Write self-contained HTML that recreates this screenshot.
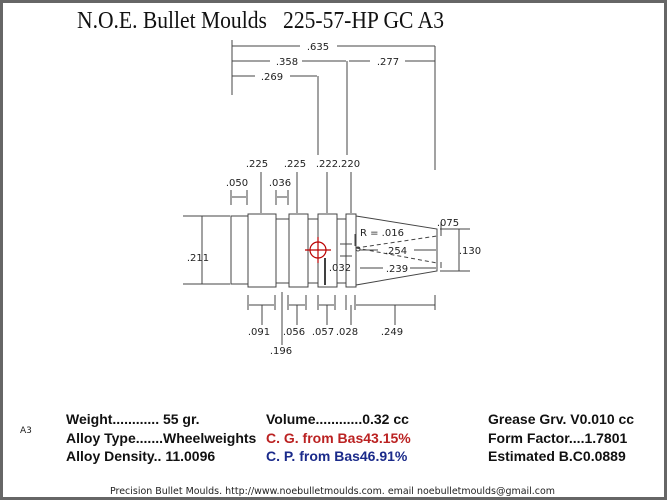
<!DOCTYPE html>
<html><head><meta charset="utf-8"><style>
html,body{margin:0;padding:0;background:#fff}
svg{display:block}
.s{font-family:"DejaVu Sans","Liberation Sans",sans-serif;font-size:10px;fill:#222}
.b{font-family:"Liberation Sans",Arial,sans-serif;font-size:14px;font-weight:bold;fill:#111}
</style></head><body>
<svg width="667" height="500" viewBox="0 0 667 500" xmlns="http://www.w3.org/2000/svg">
<rect x="1.5" y="1.5" width="664" height="497" fill="#fff" stroke="#666" stroke-width="3"/>
<text x="77" y="28" font-family="Liberation Serif,serif" font-size="24" fill="#111" textLength="367" lengthAdjust="spacingAndGlyphs" xml:space="preserve">N.O.E. Bullet Moulds   225-57-HP GC A3</text>
<g stroke="#444" stroke-width="1" fill="none">
<line x1="232" y1="40" x2="232" y2="95"/>
<line x1="318" y1="76" x2="318" y2="155"/>
<line x1="347" y1="61" x2="347" y2="155"/>
<line x1="435" y1="46" x2="435" y2="170"/>
<line x1="232" y1="46" x2="300" y2="46"/><line x1="337" y1="46" x2="435" y2="46"/>
<line x1="232" y1="61" x2="270" y2="61"/><line x1="302" y1="61" x2="346" y2="61"/>
<line x1="349" y1="61" x2="370" y2="61"/><line x1="405" y1="61" x2="435" y2="61"/>
<line x1="232" y1="76" x2="255" y2="76"/><line x1="290" y1="76" x2="317" y2="76"/>
<rect x="231" y="216" width="17" height="68"/>
<rect x="248" y="214" width="28" height="73"/>
<rect x="276" y="219" width="13" height="64"/>
<rect x="289" y="214" width="19" height="73"/>
<rect x="308" y="219" width="10" height="64"/>
<rect x="318" y="214" width="19" height="73"/>
<rect x="337" y="219" width="9" height="64"/>
<rect x="346" y="214" width="10" height="73"/>
<polygon points="356,216 437,229 437,271 356,285"/>
<line x1="356" y1="248" x2="437" y2="236" stroke-dasharray="4,3"/>
<line x1="356" y1="248" x2="437" y2="263" stroke-dasharray="4,3"/>
<circle cx="358" cy="249" r="2"/>
<line x1="355" y1="234" x2="355" y2="246"/>
<line x1="261" y1="172" x2="261" y2="213"/>
<line x1="297" y1="172" x2="297" y2="213"/>
<line x1="327" y1="172" x2="327" y2="213"/>
<line x1="351" y1="172" x2="351" y2="213"/>
<line x1="231" y1="190" x2="231" y2="205"/><line x1="247" y1="190" x2="247" y2="205"/><line x1="232" y1="197" x2="246" y2="197"/>
<line x1="276" y1="190" x2="276" y2="205"/><line x1="288" y1="190" x2="288" y2="205"/><line x1="277" y1="197" x2="287" y2="197"/>
<line x1="183" y1="216" x2="230" y2="216"/><line x1="183" y1="284" x2="230" y2="284"/><line x1="202" y1="216" x2="202" y2="284"/>
<line x1="440" y1="229" x2="470" y2="229"/><line x1="440" y1="271" x2="470" y2="271"/><line x1="459" y1="229" x2="459" y2="271"/>
<line x1="441" y1="222" x2="441" y2="236"/>
<line x1="441" y1="262" x2="441" y2="268"/>
<line x1="360" y1="250" x2="378" y2="250"/><line x1="414" y1="250" x2="436" y2="250"/>
<line x1="360" y1="268" x2="383" y2="268"/><line x1="410" y1="268" x2="436" y2="268"/>
<line x1="346" y1="240" x2="346" y2="258"/>
<line x1="340" y1="244" x2="352" y2="244"/><line x1="340" y1="256" x2="352" y2="256"/>
<line x1="248" y1="295" x2="248" y2="310"/><line x1="275" y1="295" x2="275" y2="310"/><line x1="249" y1="305" x2="274" y2="305"/><line x1="262" y1="305" x2="262" y2="325"/>
<line x1="282" y1="292" x2="282" y2="345"/>
<line x1="288" y1="295" x2="288" y2="310"/><line x1="306" y1="295" x2="306" y2="310"/><line x1="289" y1="305" x2="305" y2="305"/><line x1="297" y1="305" x2="297" y2="325"/>
<line x1="318" y1="295" x2="318" y2="310"/><line x1="335" y1="295" x2="335" y2="310"/><line x1="319" y1="305" x2="334" y2="305"/><line x1="327" y1="305" x2="327" y2="325"/>
<line x1="346" y1="295" x2="346" y2="310"/><line x1="355" y1="295" x2="355" y2="310"/><line x1="351" y1="305" x2="351" y2="325"/>
<line x1="356" y1="305" x2="435" y2="305"/><line x1="435" y1="295" x2="435" y2="310"/><line x1="395" y1="305" x2="395" y2="325"/>
</g>
<line x1="325" y1="258" x2="325" y2="285" stroke="#000" stroke-width="1.5"/>
<g stroke="#b00" stroke-width="1.2" fill="none">
<circle cx="318" cy="250" r="8"/>
<line x1="305" y1="250" x2="331" y2="250"/><line x1="318" y1="237" x2="318" y2="263"/>
</g>
<g class="s">
<text x="318" y="50" text-anchor="middle">.635</text>
<text x="287" y="65" text-anchor="middle">.358</text>
<text x="388" y="65" text-anchor="middle">.277</text>
<text x="272" y="80" text-anchor="middle">.269</text>
<text x="257" y="167" text-anchor="middle">.225</text>
<text x="295" y="167" text-anchor="middle">.225</text>
<text x="327" y="167" text-anchor="middle">.222</text>
<text x="349" y="167" text-anchor="middle">.220</text>
<text x="237" y="186" text-anchor="middle">.050</text>
<text x="280" y="186" text-anchor="middle">.036</text>
<text x="198" y="261" text-anchor="middle">.211</text>
<text x="360" y="236">R = .016</text>
<text x="396" y="254" text-anchor="middle">.254</text>
<text x="397" y="272" text-anchor="middle">.239</text>
<text x="340" y="271" text-anchor="middle">.032</text>
<text x="448" y="226" text-anchor="middle">.075</text>
<text x="470" y="254" text-anchor="middle">.130</text>
<text x="259" y="335" text-anchor="middle">.091</text>
<text x="294" y="335" text-anchor="middle">.056</text>
<text x="323" y="335" text-anchor="middle">.057</text>
<text x="347" y="335" text-anchor="middle">.028</text>
<text x="392" y="335" text-anchor="middle">.249</text>
<text x="281" y="354" text-anchor="middle">.196</text>
<text x="20" y="433" font-size="9">A3</text>
</g>
<g class="b">
<text x="66" y="424">Weight............ 55 gr.</text>
<text x="66" y="443">Alloy Type.......Wheelweights</text>
<text x="66" y="461">Alloy Density.. 11.0096</text>
<text x="266" y="424">Volume............0.32 cc</text>
<text x="266" y="443" fill="#b22">C. G. from Bas43.15%</text>
<text x="266" y="461" fill="#1a2a8a">C. P. from Bas46.91%</text>
<text x="488" y="424">Grease Grv. V0.010 cc</text>
<text x="488" y="443">Form Factor....1.7801</text>
<text x="488" y="461">Estimated B.C0.0889</text>
</g>
<text x="110" y="494" font-family="DejaVu Sans,Liberation Sans,sans-serif" font-size="10" fill="#222" textLength="445" lengthAdjust="spacingAndGlyphs">Precision Bullet Moulds. http://www.noebulletmoulds.com.  email noebulletmoulds@gmail.com</text>
</svg>
</body></html>
